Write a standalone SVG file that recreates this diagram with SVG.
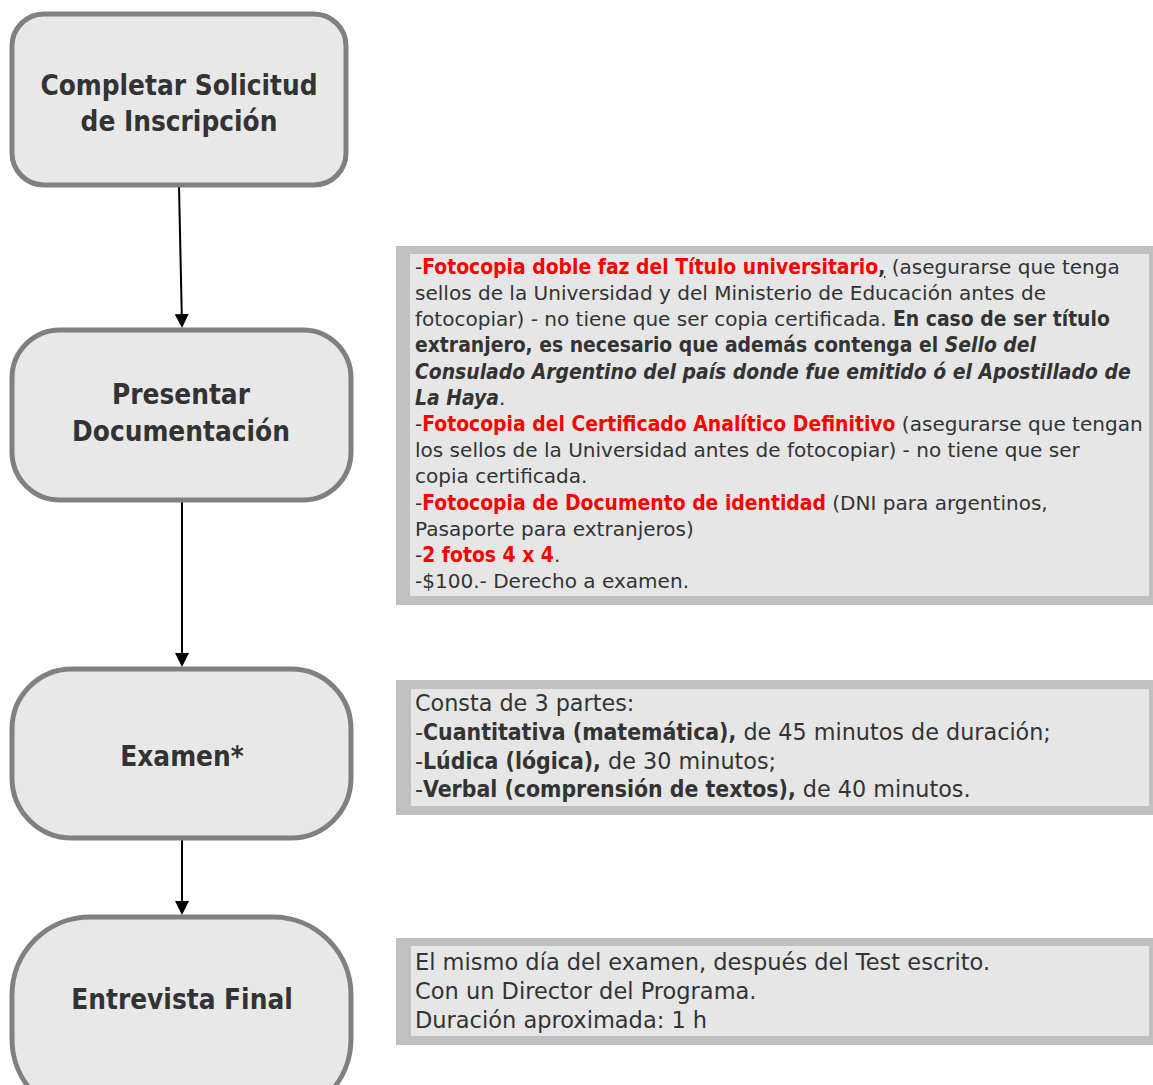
<svg xmlns="http://www.w3.org/2000/svg" width="1153" height="1085" viewBox="0 0 1153 1085">
<defs>
<style>
.node rect{fill:#E8E8E8;stroke:#808080;stroke-width:5}
.nt{font-family:"DejaVu Sans Condensed","DejaVu Sans",sans-serif;font-stretch:condensed;font-weight:bold;font-size:27.7px;fill:#333333;text-anchor:middle}
.shadow{fill:#C0C0C0}
.panel{fill:#E6E6E6}
.bt{font-family:"DejaVu Sans",sans-serif;font-size:20.05px;fill:#333333}
.bt .r,.bt .b,.bt .bi{font-size:20.9px}
.bt2{font-family:"DejaVu Sans",sans-serif;font-size:22.3px;fill:#333333}
.bt2 .b{font-size:22.8px}
.bt3{font-family:"DejaVu Sans",sans-serif;font-size:22.5px;fill:#333333}
.r,.b,.bi{font-family:"DejaVu Sans Condensed","DejaVu Sans",sans-serif;font-stretch:condensed;font-weight:bold}
.r{fill:#FF0000}
.bi{font-style:italic}
.edge{stroke:#000;stroke-width:2;fill:none;marker-end:url(#ah)}
</style>
<marker id="ah" markerWidth="14" markerHeight="14" refX="12" refY="7" orient="auto" markerUnits="userSpaceOnUse">
<path d="M0,0 L14,7 L0,14 Z" fill="#000"/>
</marker>
</defs>

<g id="connectors">
<path class="edge" d="M179,186 L182,326"/>
<path class="edge" d="M182,502 L182,665"/>
<path class="edge" d="M182,840 L182,913"/>
</g>

<g id="node-completar" class="node">
<rect x="12" y="14" width="334" height="171" rx="32" ry="32"/>
<text class="nt" x="179" y="95">Completar Solicitud</text>
<text class="nt" x="179" y="131">de Inscripción</text>
</g>

<g id="node-presentar" class="node">
<rect x="12" y="330" width="339" height="170" rx="48" ry="48"/>
<text class="nt" x="181" y="404">Presentar</text>
<text class="nt" x="181" y="441">Documentación</text>
</g>

<g id="node-examen" class="node">
<rect x="12" y="669" width="339" height="169" rx="60" ry="60"/>
<text class="nt" x="182" y="766">Examen*</text>
</g>

<g id="node-entrevista" class="node">
<rect x="12" y="917" width="339" height="200" rx="78" ry="78"/>
<text class="nt" x="182" y="1009">Entrevista Final</text>
</g>

<g id="note-documentacion">
<rect class="shadow" x="396" y="246" width="757" height="359"/>
<rect class="panel" x="410" y="254" width="739" height="342"/>
<text class="bt" x="415" y="274">-<tspan class="r">Fotocopia doble faz del Título universitario</tspan><tspan class="b" text-decoration="underline">,</tspan> (asegurarse que tenga</text>
<text class="bt" x="415" y="300">sellos de la Universidad y del Ministerio de Educación antes de</text>
<text class="bt" x="415" y="326">fotocopiar) - no tiene que ser copia certificada. <tspan class="b">En caso de ser título</tspan></text>
<text class="bt" x="415" y="352"><tspan class="b">extranjero, es necesario que además contenga el </tspan><tspan class="bi">Sello del</tspan></text>
<text class="bt" x="415" y="379"><tspan class="bi">Consulado Argentino del país donde fue emitido ó el Apostillado de</tspan></text>
<text class="bt" x="415" y="405"><tspan class="bi">La Haya</tspan>.</text>
<text class="bt" x="415" y="431">-<tspan class="r">Fotocopia del Certificado Analítico Definitivo</tspan> (asegurarse que tengan</text>
<text class="bt" x="415" y="457">los sellos de la Universidad antes de fotocopiar) - no tiene que ser</text>
<text class="bt" x="415" y="483">copia certificada.</text>
<text class="bt" x="415" y="510">-<tspan class="r">Fotocopia de Documento de identidad</tspan> (DNI para argentinos,</text>
<text class="bt" x="415" y="536">Pasaporte para extranjeros)</text>
<text class="bt" x="415" y="562">-<tspan class="r">2 fotos 4 x 4</tspan>.</text>
<text class="bt" x="415" y="588">-$100.- Derecho a examen.</text>
</g>

<g id="note-examen">
<rect class="shadow" x="396" y="680" width="757" height="135"/>
<rect class="panel" x="411" y="689" width="738" height="117"/>
<text class="bt2" x="415" y="711">Consta de 3 partes:</text>
<text class="bt2" x="415" y="740">-<tspan class="b">Cuantitativa (matemática),</tspan> de 45 minutos de duración;</text>
<text class="bt2" x="415" y="769">-<tspan class="b">Lúdica (lógica),</tspan> de 30 minutos;</text>
<text class="bt2" x="415" y="797">-<tspan class="b">Verbal (comprensión de textos),</tspan> de 40 minutos.</text>
</g>

<g id="note-entrevista">
<rect class="shadow" x="396" y="938" width="757" height="107"/>
<rect class="panel" x="411" y="946" width="738" height="90"/>
<text class="bt3" x="415" y="970">El mismo día del examen, después del Test escrito.</text>
<text class="bt3" x="415" y="999">Con un Director del Programa.</text>
<text class="bt3" x="415" y="1028">Duración aproximada: 1 h</text>
</g>
</svg>
